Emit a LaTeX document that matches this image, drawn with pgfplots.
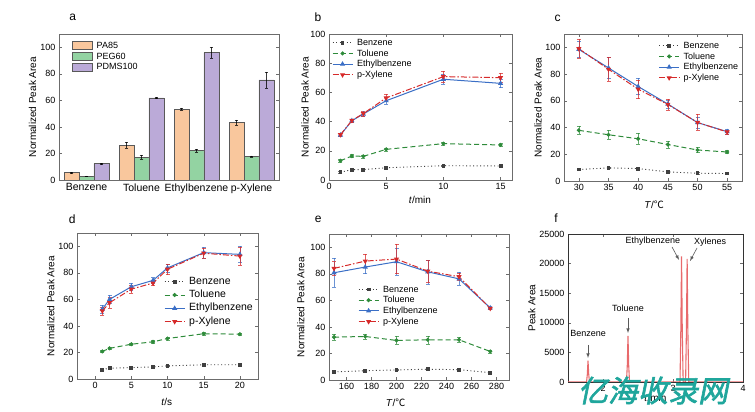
\documentclass[border=0pt]{standalone}
\usepackage{fontspec}
\setmainfont{Liberation Sans}
\newfontfamily\cjk{Noto Sans CJK SC}
\newfontfamily\wm[FakeSlant=0.2,FakeBold=2]{Noto Sans CJK SC}
\usepackage{pgfplots}
\pgfplotsset{compat=1.18}
\definecolor{cBen}{HTML}{404040}
\definecolor{cTol}{HTML}{2E8B3A}
\definecolor{cEth}{HTML}{3B6FC6}
\definecolor{cXyl}{HTML}{D62A2A}
\definecolor{cPA}{HTML}{F9C79D}
\definecolor{cPEG}{HTML}{93D3A2}
\definecolor{cPDMS}{HTML}{BBAAD8}
\definecolor{cPeak}{HTML}{E86A6C}
\definecolor{cWM}{HTML}{1FA69C}
\pgfplotsset{
  panel/.style={scale only axis, anchor=south west,
    axis line style={gray!85!black}, tick style={gray!85!black, thin},
    major tick length=3pt,
    tick label style={font=\fontsize{9}{10}\selectfont},
    label style={font=\fontsize{10}{11}\selectfont},
    /pgf/number format/assume math mode=true,
    legend cell align=left,
    legend style={draw=none, fill=none, inner sep=1pt, font=\fontsize{9}{10}\selectfont,
      nodes={inner sep=0.5pt, text height=7.5pt, text depth=2.2pt},
      /tikz/every odd column/.append style={column sep=3.5pt}},
    legend image code/.code={\draw[mark repeat=2,mark phase=2,##1] plot coordinates {(0pt,0pt)(10pt,0pt)(20pt,0pt)};},
  },
  barlegend/.style={legend image code/.code={\draw[##1] (0pt,-4pt) rectangle (20pt,4pt);}},
  ben/.style={cBen, line width=0.9pt, dash pattern=on 1pt off 2.5pt, mark=square*, mark size=1.4pt, mark options={solid}},
  tol/.style={cTol, line width=1pt, dash pattern=on 5pt off 3pt, mark=*, mark size=1.5pt, mark options={solid}},
  eth/.style={cEth, line width=1pt, mark=triangle*, mark size=2pt, mark options={solid}},
  xyl/.style={cXyl, line width=1pt, dash pattern=on 6pt off 2pt on 1.5pt off 2pt, mark=triangle*, mark size=2pt, mark options={solid, rotate=180}},
  errs/.style={error bars/y dir=both, error bars/y explicit,
    error bars/error bar style={line width=0.5pt, solid, opacity=0.75},
    error bars/error mark options={rotate=90, mark size=2pt, line width=0.5pt, solid}},
}
\begin{document}
\begin{tikzpicture}
\useasboundingbox (0,0) rectangle (755pt,412pt);
% ---------- panel a ----------
\begin{axis}[panel, barlegend, at={(59pt,232pt)}, width=220pt, height=146pt,
  xmin=-0.5, xmax=3.5, ymin=0, ymax=110,
  xtick={0,1,2,3}, xticklabels={Benzene,Toluene,Ethylbenzene,p-Xylene},
  xticklabel style={font=\fontsize{10.5}{11}\selectfont}, xtick style={draw=none},
  ytick={0,20,40,60,80,100},
  ylabel={Normalized Peak Area},
  every axis y label/.style={at={(axis description cs:-0.12,0.5)}, rotate=90, anchor=center},
  legend style={at={(axis description cs:0.055,0.965)}, anchor=north west},
]
\addlegendimage{draw=gray!70!black, fill=cPA}
\addlegendentry{PA85}
\addlegendimage{draw=gray!70!black, fill=cPEG}
\addlegendentry{PEG60}
\addlegendimage{draw=gray!70!black, fill=cPDMS}
\addlegendentry{PDMS100}
\addplot[ybar, bar width=0.27, bar shift=0pt, draw=gray!70!black, fill=cPA, line width=0.5pt, errs,
  error bars/error bar style={black}, error bars/error mark options={black, rotate=90, mark size=1.8pt}, forget plot]
  coordinates {(-0.27,5.6) +- (0,0.4) (0.73,26.3) +- (0,2) (1.73,53.4) +- (0,1) (2.73,43.3) +- (0,2)};
\addplot[ybar, bar width=0.27, bar shift=0pt, draw=gray!70!black, fill=cPEG, line width=0.5pt, errs,
  error bars/error bar style={black}, error bars/error mark options={black, rotate=90, mark size=1.8pt}, forget plot]
  coordinates {(0,2.8) +- (0,0.3) (1,17.2) +- (0,1.5) (2,22.3) +- (0,1) (3,17.8) +- (0,0.5)};
\addplot[ybar, bar width=0.27, bar shift=0pt, draw=gray!70!black, fill=cPDMS, line width=0.5pt, errs,
  error bars/error bar style={black}, error bars/error mark options={black, rotate=90, mark size=1.8pt}, forget plot]
  coordinates {(0.27,12.4) +- (0,0.4) (1.27,61.8) +- (0,0.5) (2.27,96) +- (0,4) (3.27,75.5) +- (0,6)};
\end{axis}
% ---------- panel b ----------
\begin{axis}[panel, at={(329pt,232pt)}, width=183pt, height=146pt,
  xmin=0, xmax=16, ymin=0, ymax=100,
  xtick={0,5,10,15}, ytick={0,20,40,60,80,100},
  xlabel={\textit{t}/min}, ylabel={Normalized Peak Area},
  every axis y label/.style={at={(axis description cs:-0.131,0.5)}, rotate=90, anchor=center},
  every axis x label/.style={at={(axis description cs:0.497,-0.137)}, anchor=center},
  legend style={at={(axis description cs:0.01,0.985)}, anchor=north west},
]
\addplot[ben, errs] coordinates {(1,5.3) +- (0,0.5) (2,7.1) +- (0,0.5) (3,7.1) +- (0,0.5) (5,8.4) +- (0,0.5) (10,9.8) +- (0,0.5) (15,9.6) +- (0,0.5)};
\addlegendentry{Benzene}
\addplot[tol, errs] coordinates {(1,13.2) +- (0,1) (2,16.4) +- (0,1) (3,16.2) +- (0,1) (5,21) +- (0,1) (10,24.9) +- (0,1) (15,24) +- (0,1)};
\addlegendentry{Toluene}
\addplot[eth, errs] coordinates {(1,30.8) +- (0,1) (2,40.6) +- (0,1) (3,45.2) +- (0,1.5) (5,54.3) +- (0,2.5) (10,69) +- (0,3.5) (15,66.2) +- (0,3)};
\addlegendentry{Ethylbenzene}
\addplot[xyl, errs] coordinates {(1,31) +- (0,1) (2,40.8) +- (0,1) (3,45.5) +- (0,1.5) (5,56.2) +- (0,2.5) (10,70.8) +- (0,4) (15,70.1) +- (0,3)};
\addlegendentry{p-Xylene}
\end{axis}
% ---------- panel c ----------
\begin{axis}[panel, at={(564pt,231pt)}, width=178pt, height=147pt,
  xmin=27.5, xmax=57.5, ymin=0, ymax=110,
  xtick={30,35,40,45,50,55}, ytick={0,20,40,60,80,100},
  xlabel={\textit{T}/{\cjk ℃}}, ylabel={Normalized Peak Area},
  every axis y label/.style={at={(axis description cs:-0.146,0.5)}, rotate=90, anchor=center},
  every axis x label/.style={at={(axis description cs:0.506,-0.163)}, anchor=center},
  legend style={at={(axis description cs:0.525,0.965)}, anchor=north west},
]
\addplot[ben, errs] coordinates {(30,8.6) +- (0,0.5) (35,9.8) +- (0,0.5) (40,9.3) +- (0,0.5) (45,6.8) +- (0,0.5) (50,5.8) +- (0,0.5) (55,5.6) +- (0,0.5)};
\addlegendentry{Benzene}
\addplot[tol, errs] coordinates {(30,37.9) +- (0,3) (35,34.6) +- (0,3.5) (40,31.6) +- (0,4) (45,27.3) +- (0,2.5) (50,23.2) +- (0,2) (55,21.7) +- (0,1)};
\addlegendentry{Toluene}
\addplot[eth, errs] coordinates {(30,98.5) +- (0,6) (35,84.6) +- (0,8) (40,70.7) +- (0,6) (45,57.6) +- (0,3) (50,43.7) +- (0,4) (55,36.9) +- (0,2)};
\addlegendentry{Ethylbenzene}
\addplot[xyl, errs] coordinates {(30,99) +- (0,7) (35,83.6) +- (0,9) (40,68.7) +- (0,7) (45,57.3) +- (0,4) (50,43.8) +- (0,6) (55,36.7) +- (0,1.5)};
\addlegendentry{p-Xylene}
\end{axis}
% ---------- panel d ----------
\begin{axis}[panel, at={(77pt,33pt)}, width=181pt, height=146pt,
  xmin=-2.5, xmax=22.5, ymin=0, ymax=110,
  xtick={0,5,10,15,20}, ytick={0,20,40,60,80,100},
  xlabel={\textit{t}/s}, ylabel={Normalized Peak Area},
  every axis y label/.style={at={(axis description cs:-0.145,0.5)}, rotate=90, anchor=center},
  every axis x label/.style={at={(axis description cs:0.496,-0.158)}, anchor=center},
  legend style={at={(axis description cs:0.475,0.72)}, anchor=north west, font=\fontsize{10.5}{12}\selectfont,
    nodes={inner sep=0.5pt, text height=8.8pt, text depth=3.5pt}},
]
\addplot[ben, errs] coordinates {(1,7.1) +- (0,0.5) (2,8.1) +- (0,0.5) (5,8.6) +- (0,0.5) (8,9.1) +- (0,0.5) (10,9.9) +- (0,0.5) (15,10.7) +- (0,0.5) (20,10.7) +- (0,0.5)};
\addlegendentry{Benzene}
\addplot[tol, errs] coordinates {(1,20.8) +- (0,1) (2,23.1) +- (0,1) (5,26.2) +- (0,1) (8,28) +- (0,1) (10,30.5) +- (0,1) (15,34.1) +- (0,1) (20,33.8) +- (0,1)};
\addlegendentry{Toluene}
\addplot[eth, errs] coordinates {(1,52.7) +- (0,3) (2,60) +- (0,3) (5,69.5) +- (0,3) (8,74.3) +- (0,2) (10,83.7) +- (0,3) (15,95.2) +- (0,4) (20,93.9) +- (0,6)};
\addlegendentry{Ethylbenzene}
\addplot[xyl, errs] coordinates {(1,51.3) +- (0,3) (2,57.5) +- (0,4) (5,67.7) +- (0,3) (8,72.3) +- (0,2) (10,82.7) +- (0,4) (15,94.8) +- (0,4) (20,92.6) +- (0,7)};
\addlegendentry{p-Xylene}
\end{axis}
% ---------- panel e ----------
\begin{axis}[panel, at={(329pt,32pt)}, width=180pt, height=146pt,
  xmin=146, xmax=290, ymin=0, ymax=110,
  xtick={160,180,200,220,240,260,280}, ytick={0,20,40,60,80,100},
  xlabel={\textit{T}/{\cjk ℃}}, ylabel={Normalized Peak Area},
  every axis y label/.style={at={(axis description cs:-0.157,0.5)}, rotate=90, anchor=center},
  every axis x label/.style={at={(axis description cs:0.37,-0.158)}, anchor=center},
  legend style={at={(axis description cs:0.155,0.665)}, anchor=north west},
]
\addplot[ben, errs] coordinates {(150,6.1) +- (0,0.5) (175,7) +- (0,0.5) (200,7.6) +- (0,0.5) (225,8.1) +- (0,0.5) (250,7.8) +- (0,0.5) (275,5.5) +- (0,0.5)};
\addlegendentry{Benzene}
\addplot[tol, errs] coordinates {(150,32.3) +- (0,2) (175,32.8) +- (0,2) (200,29.8) +- (0,3) (225,30.3) +- (0,3) (250,30.3) +- (0,2) (275,21.5) +- (0,1)};
\addlegendentry{Toluene}
\addplot[eth, errs] coordinates {(150,80.8) +- (0,11) (175,85.1) +- (0,5) (200,89.1) +- (0,10) (225,81.5) +- (0,9) (250,76.2) +- (0,5) (275,54.3) +- (0,1)};
\addlegendentry{Ethylbenzene}
\addplot[xyl, errs] coordinates {(150,84.1) +- (0,5) (175,89.6) +- (0,5) (200,91.1) +- (0,11) (225,82) +- (0,8) (250,77.8) +- (0,3) (275,54) +- (0,1)};
\addlegendentry{p-Xylene}
\end{axis}
% ---------- panel f ----------
\begin{axis}[panel, at={(568pt,30pt)}, width=175pt, height=148pt,
  xmin=1.5, xmax=4, ymin=0, ymax=25000,
  xtick={2,3,4}, ytick={0,5000,10000,15000,20000,25000},
  scaled y ticks=false, /pgf/number format/1000 sep={},
  axis line style={black!80}, 
  xlabel={\textit{t}/min}, ylabel={Peak Area},
  every axis y label/.style={at={(axis description cs:-0.207,0.5)}, rotate=90, anchor=center},
  every axis x label/.style={at={(axis description cs:0.5,-0.11)}, anchor=center},
]
\addplot[cPeak, line width=1.1pt] coordinates {
  (1.5,0) (1.765,0) (1.776,1300) (1.786,3600) (1.796,1300) (1.807,0)
  (2.335,0) (2.347,2800) (2.357,7800) (2.367,2800) (2.379,0)
  (3.100,0) (3.112,9000) (3.122,21200) (3.132,9000) (3.145,0)
  (3.180,0) (3.192,9000) (3.202,20800) (3.212,9000) (3.225,0) (4,0)};
\begin{scope}[font=\fontsize{9}{10}\selectfont]
\node at (axis cs:1.786,8277) {Benzene};
\draw[gray!70!black, line width=0.6pt, -latex] (axis cs:1.786,6250) -- (axis cs:1.786,4054);
\node at (axis cs:2.357,12500) {Toluene};
\draw[gray!70!black, line width=0.6pt, -latex] (axis cs:2.357,10811) -- (axis cs:2.357,8277);
\node at (axis cs:2.714,23818) {Ethylbenzene};
\draw[gray!70!black, line width=0.6pt, -latex] (axis cs:2.986,22804) -- (axis cs:3.086,20608);
\node at (axis cs:3.529,23649) {Xylenes};
\draw[gray!70!black, line width=0.6pt, -latex] (axis cs:3.343,22635) -- (axis cs:3.243,20439);
\end{scope}
\end{axis}
% ---------- panel letters ----------
\begin{scope}[font=\fontsize{12}{13}\selectfont]
\node at (72.7pt,394.3pt) {a};
\node at (318pt,394.7pt) {b};
\node at (557.7pt,393.7pt) {c};
\node at (72.3pt,193pt) {d};
\node at (318.3pt,192.7pt) {e};
\node at (556pt,193.7pt) {f};
\end{scope}
% watermark
\node[text=cWM, font=\wm\fontsize{30}{32}\selectfont] at (653pt,21.5pt) {亿海收录网};
\end{tikzpicture}
\end{document}
